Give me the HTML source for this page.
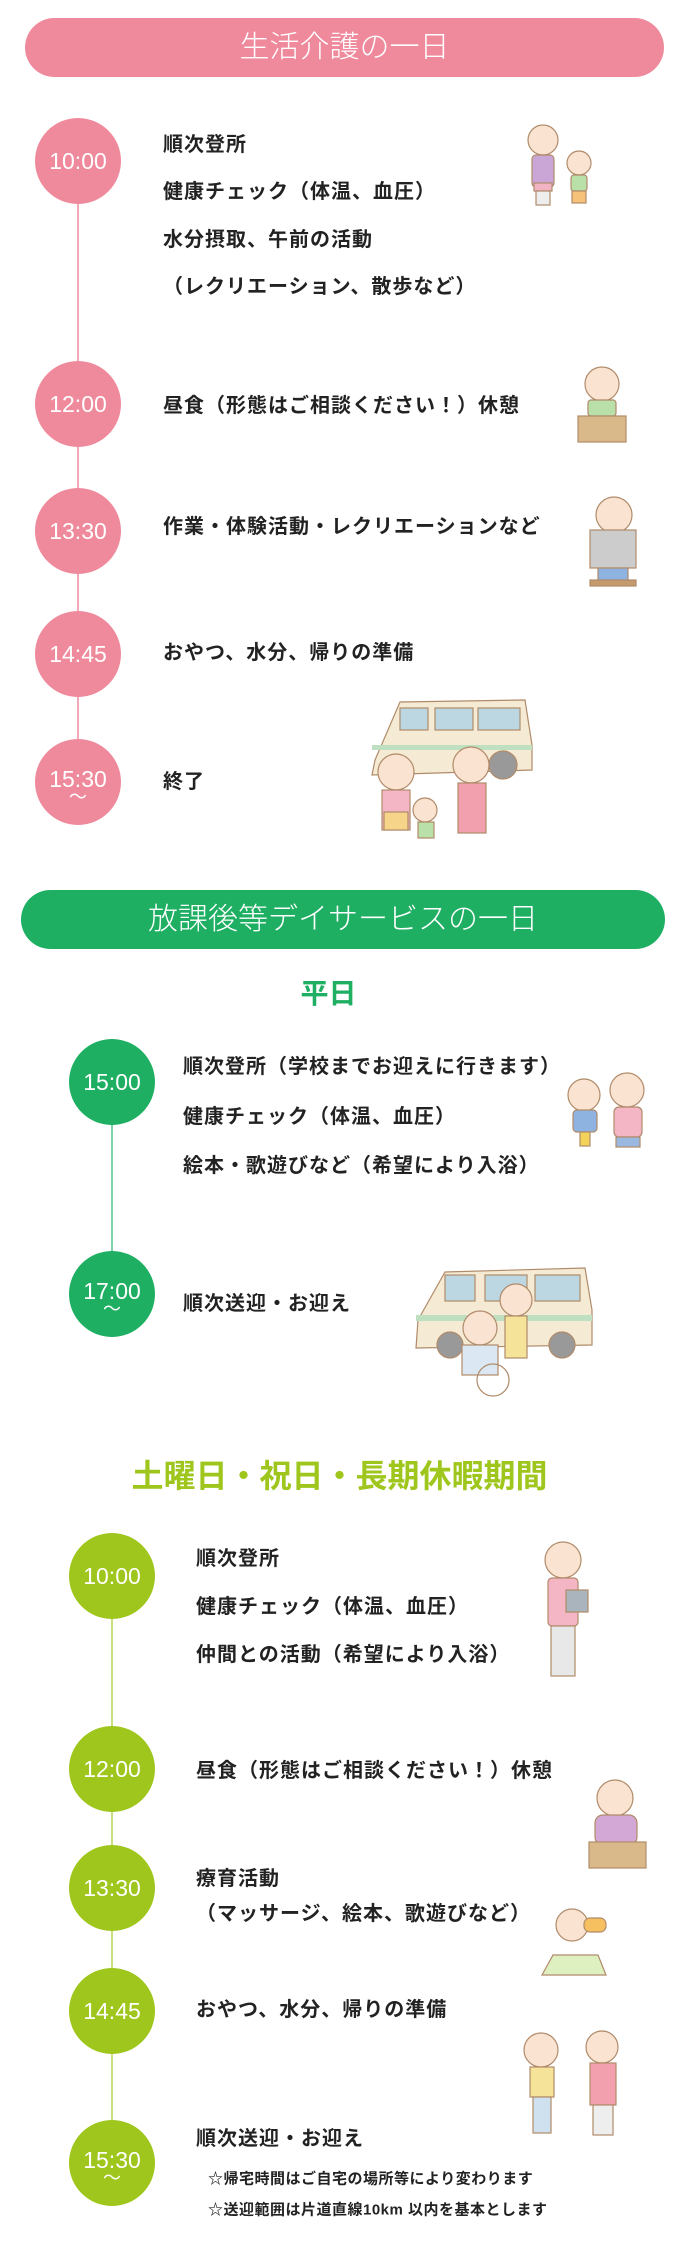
<!DOCTYPE html>
<html><head><meta charset="utf-8"><style>
*{margin:0;padding:0;box-sizing:border-box}
body{width:683px;height:2257px;position:relative;background:#fff;font-family:"Liberation Sans","Noto Sans CJK JP",sans-serif;overflow:hidden}
.a{position:absolute}
.ban{position:absolute;color:#fff;text-align:center;font-weight:300}
.c{position:absolute;color:#fff;font-size:23px;text-align:center;display:flex;align-items:center;justify-content:center;flex-direction:column;line-height:1;border-radius:50%;width:86px;height:86px}
.t{position:absolute;font-size:20px;font-weight:bold;color:#222;white-space:nowrap;line-height:1;transform:translateY(-50%);letter-spacing:1px}
.ln{position:absolute;width:2px}
.h{position:absolute;left:0;width:683px;text-align:center;font-weight:bold;line-height:1;transform:translateY(-50%)}
</style></head><body>
<svg class="a" style="left:0;top:0" width="683" height="2257">
<g stroke="#b08b6a" stroke-width="1.2">
<circle cx="543" cy="140" r="15" fill="#fbe3d2"/><rect x="532" y="155" width="22" height="32" rx="4" fill="#c9a6d6"/><rect x="534" y="183" width="18" height="8" fill="#f2b4c2"/><rect x="536" y="191" width="14" height="14" fill="#eee"/>
<circle cx="579" cy="163" r="12" fill="#fbe3d2"/><rect x="571" y="175" width="16" height="16" rx="3" fill="#b8e0a8"/><rect x="572" y="191" width="14" height="12" fill="#f6c27a"/>
<circle cx="602" cy="384" r="17" fill="#fbe3d2"/><rect x="588" y="400" width="28" height="16" rx="3" fill="#b8e0a8"/><rect x="578" y="416" width="48" height="26" fill="#d9b98a"/>
<circle cx="614" cy="515" r="18" fill="#fbe3d2"/><rect x="590" y="530" width="46" height="38" fill="#ccc"/><rect x="598" y="568" width="30" height="14" fill="#8fb3e0"/><rect x="590" y="580" width="46" height="6" fill="#c59a6c"/>
<path d="M375 760 L400 702 L525 700 L532 745 L532 770 L372 775 Z" fill="#f5ead3"/><rect x="400" y="708" width="28" height="22" fill="#bcd7e2"/><rect x="435" y="708" width="38" height="22" fill="#bcd7e2"/><rect x="478" y="708" width="42" height="22" fill="#bcd7e2"/><rect x="372" y="745" width="160" height="5" fill="#bfe0c0" stroke="none"/>
<circle cx="503" cy="765" r="14" fill="#999"/>
<circle cx="396" cy="772" r="18" fill="#fbe3d2"/><rect x="382" y="790" width="28" height="40" fill="#f4b6c4"/><rect x="384" y="812" width="24" height="18" fill="#f6d48a"/>
<circle cx="425" cy="810" r="12" fill="#fbe3d2"/><rect x="418" y="822" width="16" height="16" fill="#b8e0a8"/>
<circle cx="471" cy="765" r="18" fill="#fbe3d2"/><rect x="458" y="783" width="28" height="50" fill="#f2a0ad"/>
<circle cx="584" cy="1095" r="16" fill="#fbe3d2"/><rect x="573" y="1110" width="24" height="22" rx="4" fill="#8fb3e0"/><rect x="580" y="1132" width="10" height="14" fill="#f3d35a"/>
<circle cx="627" cy="1090" r="17" fill="#fbe3d2"/><rect x="614" y="1107" width="28" height="30" rx="5" fill="#f4b6c4"/><rect x="616" y="1137" width="24" height="10" fill="#9ab8e0"/>
<path d="M418 1320 L445 1272 L585 1268 L592 1310 L592 1345 L416 1348 Z" fill="#f5ead3"/><rect x="445" y="1275" width="30" height="26" fill="#bcd7e2"/><rect x="485" y="1275" width="42" height="26" fill="#bcd7e2"/><rect x="535" y="1275" width="45" height="26" fill="#bcd7e2"/><rect x="416" y="1315" width="176" height="6" fill="#bfe0c0" stroke="none"/>
<circle cx="450" cy="1345" r="13" fill="#999"/><circle cx="562" cy="1345" r="13" fill="#999"/>
<circle cx="480" cy="1328" r="17" fill="#fbe3d2"/><rect x="462" y="1345" width="36" height="30" fill="#dbe8f3"/><circle cx="493" cy="1380" r="16" fill="none"/>
<circle cx="516" cy="1300" r="16" fill="#fbe3d2"/><rect x="505" y="1316" width="22" height="42" fill="#f6e39a"/>
<circle cx="563" cy="1560" r="18" fill="#fbe3d2"/><rect x="548" y="1578" width="30" height="48" rx="4" fill="#f4b6c4"/><rect x="566" y="1590" width="22" height="22" fill="#aab4bc"/><rect x="551" y="1626" width="24" height="50" fill="#e8e8e8"/>
<circle cx="615" cy="1798" r="18" fill="#fbe3d2"/><rect x="595" y="1815" width="42" height="30" rx="8" fill="#d4a8d6"/><rect x="589" y="1842" width="57" height="26" fill="#d9b98a"/>
<circle cx="572" cy="1925" r="16" fill="#fbe3d2"/><rect x="584" y="1918" width="22" height="14" rx="6" fill="#f6c060"/><path d="M542 1975 L553 1955 L598 1955 L606 1975 Z" fill="#dff0c0"/>
<circle cx="541" cy="2050" r="17" fill="#fbe3d2"/><rect x="530" y="2067" width="24" height="30" fill="#f6e39a"/><rect x="533" y="2097" width="18" height="36" fill="#cfe0ee"/>
<circle cx="602" cy="2047" r="16" fill="#fbe3d2"/><rect x="590" y="2063" width="26" height="42" fill="#f2a0ad"/><rect x="593" y="2105" width="20" height="30" fill="#eee"/>
</g></svg>

<div class="ban" style="left:25px;top:18px;width:639px;height:59px;background:#ef8a9c;font-size:30px;line-height:59px;border-radius:30px">生活介護の一日</div>
<div class="ln" style="left:77px;top:161px;height:621px;background:#f4a8b6"></div>
<div class="c" style="left:35px;top:118px;background:#ef8a9c">10:00</div>
<div class="c" style="left:35px;top:361px;background:#ef8a9c">12:00</div>
<div class="c" style="left:35px;top:488px;background:#ef8a9c">13:30</div>
<div class="c" style="left:35px;top:611px;background:#ef8a9c">14:45</div>
<div class="c" style="left:35px;top:739px;background:#ef8a9c;padding-top:6px">15:30<span style="font-size:18px;line-height:12px">〜</span></div>
<div class="t" style="left:163px;top:145px">順次登所</div>
<div class="t" style="left:163px;top:192px">健康チェック（体温、血圧）</div>
<div class="t" style="left:163px;top:240px">水分摂取、午前の活動</div>
<div class="t" style="left:163px;top:287px">（レクリエーション、散歩など）</div>
<div class="t" style="left:163px;top:406px">昼食（形態はご相談ください！）休憩</div>
<div class="t" style="left:163px;top:527px">作業・体験活動・レクリエーションなど</div>
<div class="t" style="left:163px;top:653px">おやつ、水分、帰りの準備</div>
<div class="t" style="left:163px;top:782px">終了</div>

<div class="ban" style="left:21px;top:890px;width:644px;height:59px;background:#1eaf63;font-size:30px;line-height:59px;border-radius:30px">放課後等デイサービスの一日</div>
<div class="h" style="top:994px;font-size:28px;color:#1eaf63"><span style="position:relative;left:-13px">平日</span></div>
<div class="ln" style="left:111px;top:1082px;height:212px;background:#7fd3a8"></div>
<div class="c" style="left:69px;top:1039px;background:#1eaf63">15:00</div>
<div class="c" style="left:69px;top:1251px;background:#1eaf63;padding-top:6px">17:00<span style="font-size:18px;line-height:12px">〜</span></div>
<div class="t" style="left:183px;top:1067px">順次登所（学校までお迎えに行きます）</div>
<div class="t" style="left:183px;top:1117px">健康チェック（体温、血圧）</div>
<div class="t" style="left:183px;top:1166px">絵本・歌遊びなど（希望により入浴）</div>
<div class="t" style="left:183px;top:1304px">順次送迎・お迎え</div>

<div class="h" style="top:1476px;font-size:32px;color:#9fc61c"><span style="position:relative;left:-2px">土曜日・祝日・長期休暇期間</span></div>
<div class="ln" style="left:111px;top:1576px;height:587px;background:#c8df80"></div>
<div class="c" style="left:69px;top:1533px;background:#9fc61c">10:00</div>
<div class="c" style="left:69px;top:1726px;background:#9fc61c">12:00</div>
<div class="c" style="left:69px;top:1845px;background:#9fc61c">13:30</div>
<div class="c" style="left:69px;top:1968px;background:#9fc61c">14:45</div>
<div class="c" style="left:69px;top:2120px;background:#9fc61c;padding-top:6px">15:30<span style="font-size:18px;line-height:12px">〜</span></div>
<div class="t" style="left:196px;top:1559px">順次登所</div>
<div class="t" style="left:196px;top:1607px">健康チェック（体温、血圧）</div>
<div class="t" style="left:196px;top:1655px">仲間との活動（希望により入浴）</div>
<div class="t" style="left:196px;top:1771px">昼食（形態はご相談ください！）休憩</div>
<div class="t" style="left:196px;top:1879px">療育活動</div>
<div class="t" style="left:196px;top:1914px">（マッサージ、絵本、歌遊びなど）</div>
<div class="t" style="left:196px;top:2010px">おやつ、水分、帰りの準備</div>
<div class="t" style="left:196px;top:2139px">順次送迎・お迎え</div>
<div class="t" style="left:208px;top:2179px;font-size:15px;letter-spacing:0.5px">☆帰宅時間はご自宅の場所等により変わります</div>
<div class="t" style="left:208px;top:2210px;font-size:15px;letter-spacing:0.5px">☆送迎範囲は片道直線10km 以内を基本とします</div>
</body></html>
